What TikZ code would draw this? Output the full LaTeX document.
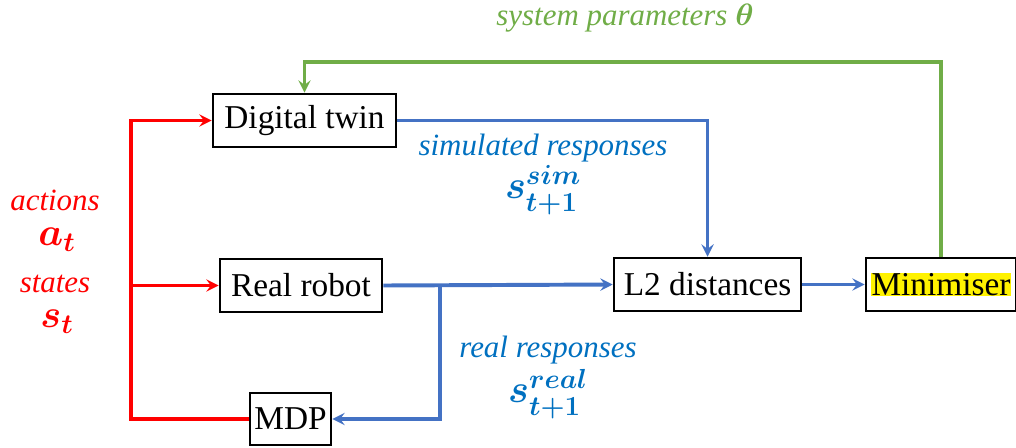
\RequirePackage{fix-cm}
\documentclass[tikz,border=0pt]{standalone}
\usepackage{amsmath}
\usepackage{fontspec}
\setmainfont{Liberation Serif}
\usetikzlibrary{positioning}

\definecolor{redline}{HTML}{FF0000}
\definecolor{blueline}{HTML}{4472C4}
\definecolor{bluetext}{HTML}{0070C0}
\definecolor{greenline}{HTML}{70AD47}

\begin{document}
\begin{tikzpicture}[
    x=0.025cm, y=-0.025cm,
    box/.style={rectangle, draw=black, line width=1.8pt, minimum height=1.325cm, inner sep=0pt, text centered, font=\fontsize{23.7}{28}\selectfont},
    arrow/.style={line width=2.8pt, ->, >=stealth},
    lbl/.style={font=\fontsize{22}{26}\selectfont\itshape, inner sep=0pt},
    sym/.style={font=\fontsize{28}{32}\selectfont, inner sep=0pt}
]
\useasboundingbox (0,0) rectangle (1016,447);

% Blocks
\node (twin) [box, minimum width=4.575cm] at (304.5,120.5) {Digital twin};
\node (robot) [box, minimum width=4.05cm] at (301,285.5) {Real robot};
\node (mdp) [box, minimum width=2.025cm, minimum height=1.3cm] at (290.5,419) {MDP};
\node (l2) [box, minimum width=4.675cm] at (707.5,284.5) {L2 distances};
\node (minimiser) [box, minimum width=3.75cm] at (941,284.5) {\setlength{\fboxsep}{0.5pt}\colorbox{yellow}{Minimiser}};

% Red inputs: actions and states
\coordinate (rtop) at (131,120.5);
\coordinate (rbot) at (131,419);
\draw[arrow, redline] (mdp.west) -- (rbot) -- (rtop) -- (twin.west);
\draw[arrow, redline] (rtop |- robot.west) -- (robot.west);
\node (actions) [lbl, text=redline] at (55,200) {actions};
\node (at) [sym, text=redline] at (57,240) {$\boldsymbol{a_t}$};
\node (states) [lbl, text=redline] at (55,284) {states};
\node (st) [sym, text=redline] at (57,322) {$\boldsymbol{s_t}$};

% Blue responses
\coordinate (split) at (440,285.5);
\draw[arrow, blueline] (twin.east) -| (l2.north);
\draw[arrow, blueline] (robot.east) -- (l2.west);
\draw[arrow, blueline] (split) |- (mdp.east);
\draw[arrow, blueline] (l2.east) -- (minimiser.west);
\node (simtext) [lbl, text=bluetext] at (543,148) {simulated responses};
\node (simsym) [sym, text=bluetext] at (543,190) {$\boldsymbol{s^{sim}_{t+1}}$};
\node (realtext) [lbl, text=bluetext] at (548,350) {real responses};
\node (realsym) [sym, text=bluetext] at (548,394) {$\boldsymbol{s^{real}_{t+1}}$};

% Green feedback: system parameters
\coordinate (gtop) at (0,62);
\draw[arrow, greenline] (minimiser.north) |- (gtop -| twin.north) -- (twin.north);
\node (params) [lbl, text=greenline] at (625,18) {system parameters $\boldsymbol{\theta}$};

\end{tikzpicture}
\end{document}
